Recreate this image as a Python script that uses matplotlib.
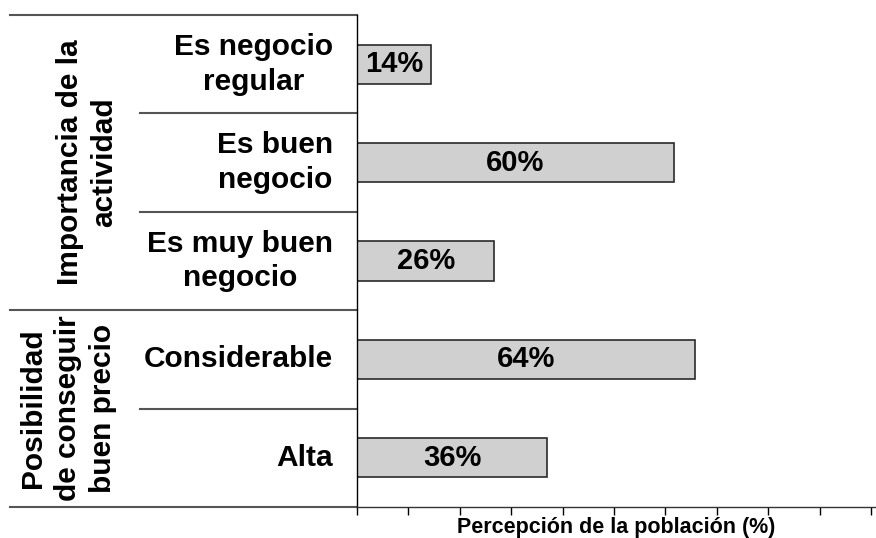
import numpy as np
import matplotlib
matplotlib.use("Agg")
import matplotlib.pyplot as plt
import matplotlib.transforms as mtransforms

plt.rcParams['font.family'] = ['Liberation Sans', 'DejaVu Sans']
plt.rcParams['font.weight'] = 'bold'

# data (top to bottom)
categorias = ["Es negocio\nregular", "Es buen\nnegocio", "Es muy buen\nnegocio",
              "Considerable", "Alta"]
valores = [14, 60, 26, 64, 36]
grupos = ["Importancia de la\nactividad", "Posibilidad\nde conseguir\nbuen precio"]
filas_grupo = [(0, 2), (3, 4)]

W, H = 876, 538
fig = plt.figure(figsize=(W / 100, H / 100), dpi=100)
x0, x1, y0, y1 = 357, 876, 15, 507
ax = fig.add_axes([x0 / W, 1 - y1 / H, (x1 - x0) / W, (y1 - y0) / H])

px_por_pct = 5.28
xmax = (x1 - x0) / px_por_pct
ypos = np.arange(len(valores))

ax.barh(ypos, valores, height=0.4, color='#d0d0d0', edgecolor='#2a2a2a', linewidth=1.2)
for y, v in zip(ypos, valores):
    ax.text(v / 2, y, f"{v}%", ha='center', va='center', fontsize=21, fontweight='bold')

ax.set_xlim(0, xmax)
ax.set_ylim(len(valores) - 0.5, -0.5)
ax.set_xticks(np.arange(0, xmax, 51.4 / px_por_pct))
ax.set_xticklabels([])
ax.set_yticks([])
ax.tick_params(axis='x', direction='out', length=6, width=1, color='black')
for s in ['top', 'right']:
    ax.spines[s].set_visible(False)
ax.spines['left'].set_linewidth(1)
ax.spines['bottom'].set_linewidth(1)
ax.spines['bottom'].set_color('#333333')

fig.text((x0 + x1) / 2 / W, 1 - 533 / H, "Percepción de la población (%)",
         ha='center', va='baseline', fontsize=15.5, fontweight='bold')

# table at the left
trans = mtransforms.blended_transform_factory(ax.transAxes, ax.transData)
xa = lambda px: (px - x0) / (x1 - x0)
bordes = [-0.5, 0.5, 1.5, 2.5, 3.5, 4.5]
for b in bordes:
    inicio = 10 if b in (-0.5, 2.5, 4.5) else 140
    ax.plot([xa(inicio), 0], [b, b], color='#555555', lw=1.5,
            transform=trans, clip_on=False)

for y, c in zip(ypos, categorias):
    ax.text(xa(333), y, c, ha='right', va='center', multialignment='center',
            fontsize=21.5, fontweight='bold', linespacing=1.3, transform=trans)

for (a, b), g, px in zip(filas_grupo, grupos, [87, 68]):
    ax.text(xa(px), (a + b) / 2, g, ha='center', va='center', rotation=90,
            multialignment='center', fontsize=21.5, fontweight='bold',
            linespacing=1.3, transform=trans)

fig.savefig("out.png", dpi=100)
